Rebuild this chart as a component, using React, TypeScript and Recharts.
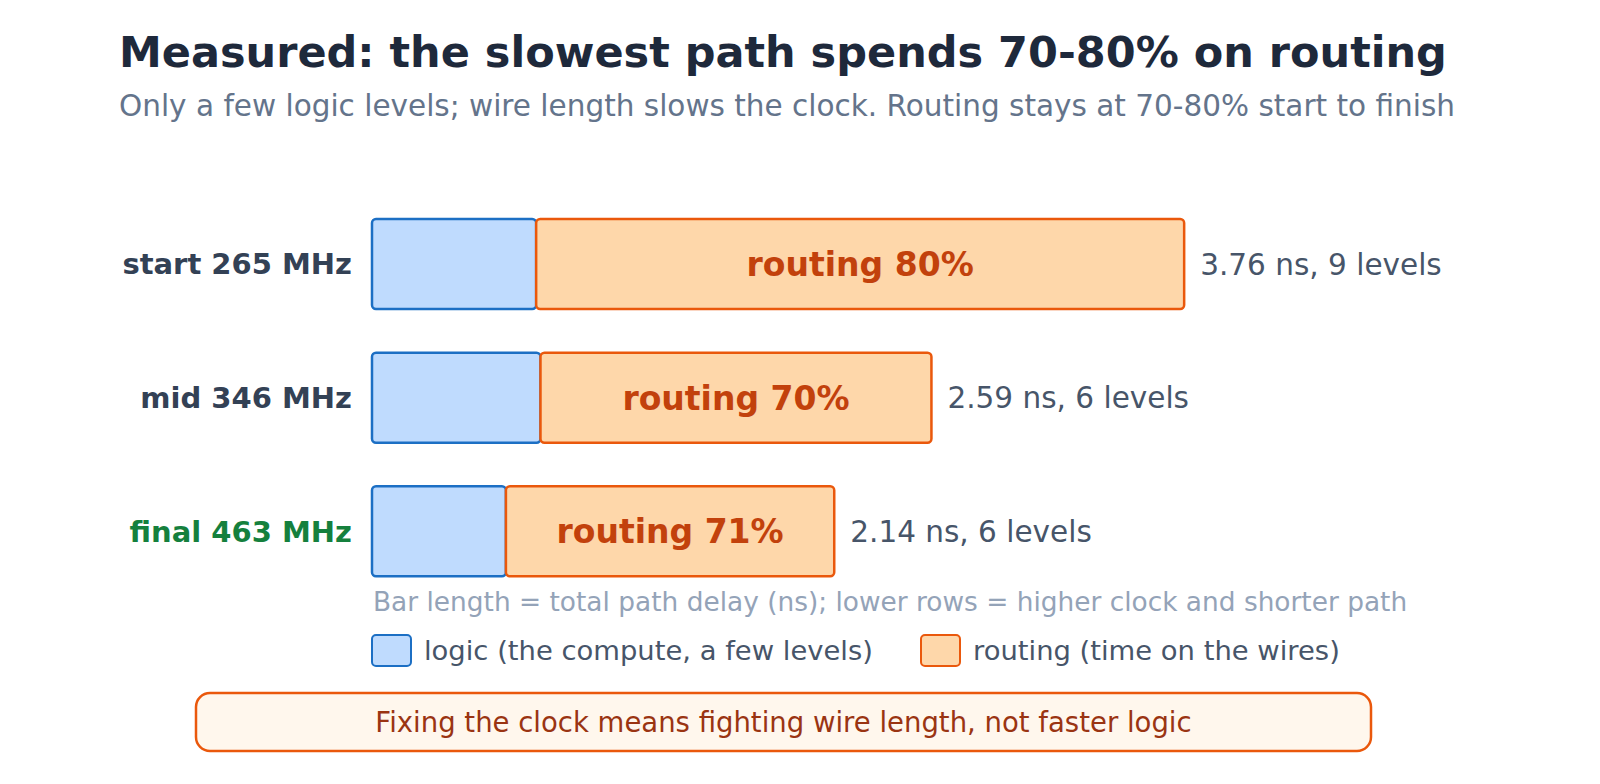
import React from 'react';
import { BarChart, Bar, XAxis, YAxis, LabelList } from 'recharts';

const rows = ['start 265 MHz', 'mid 346 MHz', 'final 463 MHz'];
const logicNs = [0.76, 0.78, 0.62];
const routingNs = [3.0, 1.81, 1.52];
const totalNs = [3.76, 2.59, 2.14];
const levels = [9, 6, 6];
const routingPct = [80, 70, 71];

const FONT = '"DejaVu Sans", Verdana, sans-serif';
const W = 1600;
const H = 784;

const data = rows.map((name, i) => ({
  name,
  logic: logicNs[i],
  routing: routingNs[i],
  pct: routingPct[i],
  info: `${totalNs[i].toFixed(2)} ns, ${levels[i]} levels`,
}));

const RowTick = (props: any) => {
  const { x, y, payload, index } = props;
  const isFinal = index === rows.length - 1;
  return (
    <text
      x={x}
      y={y}
      dy="0.36em"
      textAnchor="end"
      fontFamily={FONT}
      fontSize={29}
      fontWeight="bold"
      fill={isFinal ? '#15803d' : '#334155'}
    >
      {payload.value}
    </text>
  );
};

const RoutingLabel = (props: any) => {
  const { x, y, width, height, index } = props;
  return (
    <text
      x={x + width / 2}
      y={y + height / 2}
      dy="0.36em"
      textAnchor="middle"
      fontFamily={FONT}
      fontSize={33}
      fontWeight="bold"
      fill="#c2410c"
    >
      {`routing ${routingPct[index]}%`}
    </text>
  );
};

const InfoLabel = (props: any) => {
  const { x, y, width, height, index } = props;
  return (
    <text
      x={x + width + 16}
      y={y + height / 2}
      dy="0.36em"
      textAnchor="start"
      fontFamily={FONT}
      fontSize={29.5}
      fill="#475569"
    >
      {data[index].info}
    </text>
  );
};

const legendItems = [
  { label: 'logic (the compute, a few levels)', fill: '#bfdbfe', stroke: '#1c6fc4', x: 372 },
  { label: 'routing (time on the wires)', fill: '#fed7aa', stroke: '#ea580c', x: 921 },
];

export default function App() {
  return (
    <div
      style={{
        position: 'absolute',
        left: 0,
        top: 0,
        width: W,
        height: H,
        background: '#fff',
        overflow: 'hidden',
      }}
    >
      <BarChart
        width={W}
        height={H}
        data={data}
        layout="vertical"
        margin={{ top: 197, right: 148, bottom: 186, left: 0 }}
        barSize={90}
      >
        <XAxis type="number" domain={[0, 5]} hide />
        <YAxis
          type="category"
          dataKey="name"
          width={372}
          axisLine={false}
          tickLine={false}
          tickSize={0}
          tickMargin={20}
          tick={<RowTick />}
        />
        <Bar
          dataKey="logic"
          name="logic"
          stackId="a"
          fill="#bfdbfe"
          stroke="#1c6fc4"
          strokeWidth={2.5}
          radius={4}
          isAnimationActive={false}
        />
        <Bar
          dataKey="routing"
          name="routing"
          stackId="a"
          fill="#fed7aa"
          stroke="#ea580c"
          strokeWidth={2.5}
          radius={4}
          isAnimationActive={false}
        >
          <LabelList dataKey="pct" content={<RoutingLabel />} />
          <LabelList dataKey="info" content={<InfoLabel />} />
        </Bar>
      </BarChart>
      <svg
        width={W}
        height={H}
        style={{ position: 'absolute', left: 0, top: 0, pointerEvents: 'none' }}
        fontFamily={FONT}
      >
        <text x={119} y={67} fontSize={43} fontWeight="bold" fill="#1e293b">
          Measured: the slowest path spends 70-80% on routing
        </text>
        <text x={119} y={116} fontSize={29.5} fill="#64748b">
          Only a few logic levels; wire length slows the clock. Routing stays at 70-80% start to finish
        </text>
        <text x={373} y={611} fontSize={26.4} fill="#94a3b8">
          Bar length = total path delay (ns); lower rows = higher clock and shorter path
        </text>
        {legendItems.map((it) => (
          <g key={it.label}>
            <rect x={it.x} y={635} width={39} height={31} rx={4} fill={it.fill} stroke={it.stroke} strokeWidth={2} />
            <text x={it.x + 52} y={660} fontSize={27.4} fill="#475569">
              {it.label}
            </text>
          </g>
        ))}
        <rect x={196} y={693} width={1175} height={58} rx={14} fill="#fff7ed" stroke="#ea580c" strokeWidth={2.5} />
        <text x={783.5} y={732} textAnchor="middle" fontSize={27.5} fill="#9a3412">
          Fixing the clock means fighting wire length, not faster logic
        </text>
      </svg>
    </div>
  );
}
